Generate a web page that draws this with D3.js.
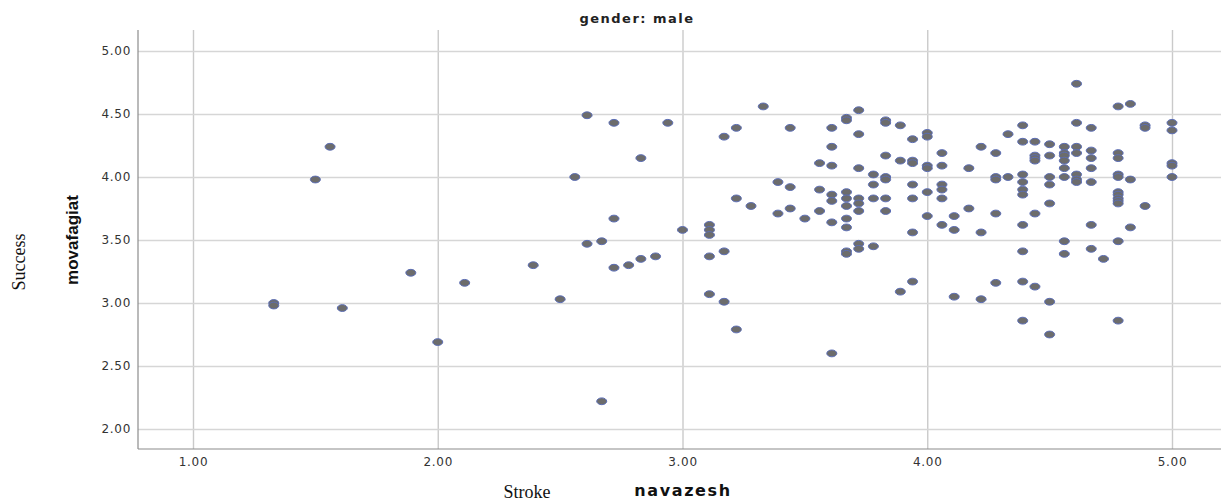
<!DOCTYPE html>
<html>
<head>
<meta charset="utf-8">
<script src="https://cdn.jsdelivr.net/npm/d3@7"></script>
<style>
  body { margin: 0; background: #fff; }
  svg { display: block; }
  .tick text { font-family: "DejaVu Sans", sans-serif; font-size: 12px; fill: #333; letter-spacing: 0.7px; }
  .grid line { stroke: #d6d6d6; stroke-width: 1.4px; }
  .grid path, .axis path { display: none; }
</style>
</head>
<body>
<svg id="chart" width="1221" height="502"></svg>
<script>
// navazesh levels (x) and the movafagiat values (y) observed at each level
var navazeshLevels = [1.33, 1.50, 1.56, 1.61, 1.89, 2.00, 2.11, 2.39, 2.50, 2.56, 2.61, 2.67, 2.72, 2.78, 2.83, 2.89, 2.94, 3.00,
  3.11, 3.17, 3.22, 3.28, 3.33, 3.39, 3.44, 3.50, 3.56, 3.61, 3.67, 3.72, 3.78, 3.83, 3.89, 3.94, 4.00, 4.06, 4.11, 4.17,
  4.22, 4.28, 4.33, 4.39, 4.44, 4.50, 4.56, 4.61, 4.67, 4.72, 4.78, 4.83, 4.89, 5.00];

var movafagiatByLevel = [
  [3.00, 2.98], [3.98], [4.24], [2.96], [3.24], [2.69], [3.16], [3.30], [3.03], [4.00],
  [4.49, 3.47], [3.49, 2.22], [4.43, 3.67, 3.28], [3.30], [4.15, 3.35], [3.37], [4.43], [3.58],
  [3.62, 3.58, 3.54, 3.37, 3.07],
  [4.32, 3.41, 3.01],
  [4.39, 3.83, 2.79],
  [3.77],
  [4.56],
  [3.96, 3.71],
  [4.39, 3.92, 3.75],
  [3.67],
  [4.11, 3.90, 3.73],
  [4.39, 4.24, 4.09, 3.86, 3.81, 3.64, 2.60],
  [4.47, 4.45, 3.88, 3.83, 3.77, 3.67, 3.60, 3.41, 3.39],
  [4.53, 4.34, 4.07, 3.83, 3.79, 3.73, 3.47, 3.43],
  [4.02, 3.94, 3.83, 3.45],
  [4.45, 4.43, 4.17, 4.00, 3.98, 3.83, 3.73],
  [4.41, 4.13, 3.09],
  [4.30, 4.13, 4.11, 3.94, 3.83, 3.56, 3.17],
  [4.35, 4.32, 4.09, 4.07, 3.88, 3.69],
  [4.19, 4.09, 3.94, 3.90, 3.83, 3.62],
  [3.69, 3.58, 3.05],
  [4.07, 3.75],
  [4.24, 3.56, 3.03],
  [4.19, 4.00, 3.98, 3.71, 3.16],
  [4.34, 4.00],
  [4.41, 4.28, 4.02, 3.96, 3.90, 3.86, 3.62, 3.41, 3.17, 2.86],
  [4.28, 4.17, 4.15, 4.13, 3.71, 3.13],
  [4.26, 4.17, 4.00, 3.94, 3.79, 3.01, 2.75],
  [4.24, 4.19, 4.17, 4.13, 4.07, 4.00, 3.49, 3.39],
  [4.74, 4.43, 4.24, 4.19, 4.02, 3.98, 3.96],
  [4.39, 4.21, 4.15, 4.07, 3.96, 3.62, 3.43],
  [3.35],
  [4.56, 4.19, 4.15, 4.02, 4.00, 3.88, 3.86, 3.83, 3.81, 3.79, 3.49, 2.86],
  [4.58, 3.98, 3.60],
  [4.41, 4.39, 3.77],
  [4.43, 4.37, 4.11, 4.09, 4.00]
];

var xTicks = [1, 2, 3, 4, 5];
var yTicks = [2.0, 2.5, 3.0, 3.5, 4.0, 4.5, 5.0];

var title = "gender: male";
var xLabel = "navazesh", xLabelEn = "Stroke";
var yLabel = "movafagiat", yLabelEn = "Success";

var points = [];
navazeshLevels.forEach(function (nx, i) {
  movafagiatByLevel[i].forEach(function (my) { points.push({ x: nx, y: my }); });
});

var svg = d3.select("#chart");
// note: "top" is taken by window.top, so use plot* names
var plotLeft = 138, plotRight = 1221, plotTop = 30, plotBottom = 449;

var x = d3.scaleLinear().domain([1, 5]).range([193, 1172]);
var y = d3.scaleLinear().domain([2, 5]).range([429, 51]);

// grid
svg.append("g").attr("class", "grid")
  .attr("transform", "translate(0," + plotBottom + ")")
  .call(d3.axisBottom(x).tickValues(xTicks).tickSize(-(plotBottom - plotTop)).tickFormat(""))
  .selectAll("line").style("stroke", "#cacaca");
svg.append("g").attr("class", "grid")
  .attr("transform", "translate(" + plotLeft + ",0)")
  .call(d3.axisLeft(y).tickValues(yTicks).tickSize(-(plotRight - plotLeft)).tickFormat(""));

// axis lines
svg.append("line").attr("x1", plotLeft).attr("x2", plotLeft).attr("y1", plotTop).attr("y2", plotBottom)
  .attr("stroke", "#8c8c8c").attr("stroke-width", 1.2);
svg.append("line").attr("x1", plotLeft).attr("x2", plotRight).attr("y1", plotBottom).attr("y2", plotBottom)
  .attr("stroke", "#8c8c8c").attr("stroke-width", 1.2);

// tick labels
svg.append("g").attr("class", "axis")
  .attr("transform", "translate(0," + plotBottom + ")")
  .call(d3.axisBottom(x).tickValues(xTicks).tickSize(0).tickPadding(8).tickFormat(d3.format(".2f")));
svg.append("g").attr("class", "axis")
  .attr("transform", "translate(" + plotLeft + ",0)")
  .call(d3.axisLeft(y).tickValues(yTicks).tickSize(0).tickPadding(7).tickFormat(d3.format(".2f")));

// points
svg.append("g").selectAll("ellipse").data(points).enter().append("ellipse")
  .attr("cx", function (d) { return x(d.x); })
  .attr("cy", function (d) { return y(d.y); })
  .attr("rx", 5).attr("ry", 3.4)
  .attr("fill", "#6c6c6c")
  .attr("stroke", "#5b6db5")
  .attr("stroke-width", 1);

// titles
svg.append("text").attr("x", 637).attr("y", 23).attr("text-anchor", "middle")
  .style("font-family", "DejaVu Sans").style("font-weight", "bold")
  .style("font-size", "13px").style("letter-spacing", "1.5px").attr("fill", "#222")
  .text(title);
svg.append("text").attr("x", 683).attr("y", 496).attr("text-anchor", "middle")
  .style("font-family", "DejaVu Sans").style("font-weight", "bold")
  .style("font-size", "16px").style("letter-spacing", "1.6px").attr("fill", "#111")
  .text(xLabel);
svg.append("text").attr("x", 527).attr("y", 498).attr("text-anchor", "middle")
  .style("font-family", "Liberation Serif").style("font-size", "18px").attr("fill", "#111")
  .text(xLabelEn);
svg.append("text").attr("transform", "translate(78,240) rotate(-90)").attr("text-anchor", "middle")
  .style("font-family", "Liberation Sans Narrow, Liberation Sans").style("font-weight", "bold")
  .style("font-size", "17px").attr("fill", "#111")
  .text(yLabel);
svg.append("text").attr("transform", "translate(25,262) rotate(-90)").attr("text-anchor", "middle")
  .style("font-family", "Liberation Serif").style("font-size", "18px").attr("fill", "#111")
  .text(yLabelEn);
</script>
</body>
</html>
